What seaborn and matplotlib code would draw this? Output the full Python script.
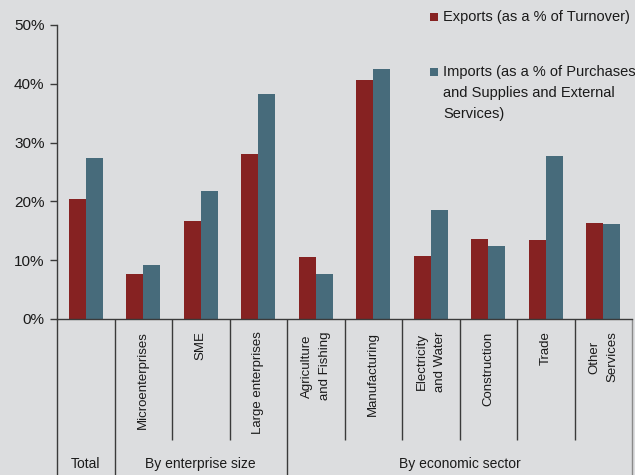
import matplotlib
matplotlib.use("Agg")
import matplotlib.pyplot as plt
import matplotlib.patches as mpatches
import matplotlib.transforms as mtransforms
from matplotlib.ticker import PercentFormatter, FixedLocator
import seaborn as sns
import pandas as pd

# Categories along the x axis
categories = [
    "Total",
    "Microenterprises",
    "SME",
    "Large enterprises",
    "Agriculture\nand Fishing",
    "Manufacturing",
    "Electricity\nand Water",
    "Construction",
    "Trade",
    "Other\nServices",
]
# Rotated labels under each category (the total column is named by its group label only)
tick_labels = [""] + categories[1:]
# Exports as a share of turnover (%)
exports = [20.4, 7.6, 16.7, 28.0, 10.6, 40.6, 10.7, 13.6, 13.4, 16.4]
# Imports as a share of purchases, supplies and external services (%)
imports = [27.4, 9.2, 21.7, 38.3, 7.6, 42.6, 18.5, 12.4, 27.8, 16.1]

series_names = [
    "Exports (as a % of Turnover)",
    "Imports (as a % of Purchases\nand Supplies and External\nServices)",
]
groups = ["Total", "By enterprise size", "By economic sector"]
group_spans = [(0, 0), (1, 3), (4, 9)]  # first and last category of each group
y_ticks = [0, 10, 20, 30, 40, 50]

BG = "#dcdddf"
RED = "#862222"
BLUE = "#476b7b"
LINE = "#3a3a3a"

df = pd.DataFrame({
    "category": categories * 2,
    "series": [series_names[0]] * len(categories) + [series_names[1]] * len(categories),
    "value": exports + imports,
})

sns.set_theme(style="white")
plt.rcParams["font.family"] = ["Liberation Sans", "DejaVu Sans"]

fig = plt.figure(figsize=(6.35, 4.75), dpi=100, facecolor=BG)
ax = fig.add_axes([57 / 635, (475 - 319) / 475, (632 - 57) / 635, (319 - 25) / 475])
ax.set_facecolor(BG)

sns.barplot(
    data=df, x="category", y="value", hue="series",
    order=categories, hue_order=series_names,
    palette=[RED, BLUE], width=0.59, gap=0,
    saturation=1, legend=False, ax=ax, edgecolor="none",
)

ax.set_xlim(-0.5, len(categories) - 0.5)
ax.set_ylim(0, 50)
ax.yaxis.set_major_locator(FixedLocator(y_ticks))
ax.yaxis.set_major_formatter(PercentFormatter(decimals=0))
ax.set_xlabel("")
ax.set_ylabel("")
ax.set_xticks(range(len(categories)))
ax.set_xticklabels(tick_labels)

for side in ("top", "right"):
    ax.spines[side].set_visible(False)
ax.spines["left"].set_color(LINE)
ax.spines["left"].set_linewidth(1.0)
ax.spines["bottom"].set_color(LINE)
ax.spines["bottom"].set_linewidth(1.0)

ax.tick_params(axis="y", which="major", direction="out", length=5, width=1.0,
               color=LINE, labelsize=11, labelcolor="#1a1a1a", pad=4, left=True)
ax.tick_params(axis="x", length=0, pad=9, labelsize=9.5, labelcolor="#1a1a1a")
plt.setp(ax.get_xticklabels(), rotation=90, ha="center", va="top",
         multialignment="center", linespacing=1.7)

# Table-like dividers under the axis
trans = mtransforms.blended_transform_factory(ax.transData, fig.transFigure)
y0 = 1 - 319 / 475
y_short = 1 - 440 / 475
long_edges = {-0.5, 0.5, 3.5}
for i in range(len(categories) + 1):
    xe = i - 0.5
    if xe in long_edges:
        ax.plot([xe, xe], [y0, 0], transform=trans, color=LINE, lw=1.0,
                clip_on=False, solid_capstyle="butt")
    elif i == len(categories):
        ax.plot([xe, xe], [y0, 0], transform=trans, color="#8a8a8a", lw=1.0,
                clip_on=False, solid_capstyle="butt")
    else:
        ax.plot([xe, xe], [y0, y_short], transform=trans, color=LINE, lw=1.0,
                clip_on=False, solid_capstyle="butt")

# Group labels
y_group = 1 - 464 / 475
for name, (a, b) in zip(groups, group_spans):
    ax.text((a + b) / 2, y_group, name, transform=trans, ha="center", va="center",
            fontsize=10, color="#1a1a1a")

# Legend in the top right corner
legend_items = [(series_names[0], RED, 17), (series_names[1], BLUE, 72)]
for label, color, ypx in legend_items:
    fig.patches.append(mpatches.Rectangle(
        (430 / 635, 1 - (ypx + 4) / 475), 8 / 635, 8 / 475,
        transform=fig.transFigure, facecolor=color, edgecolor="none"))
    fig.text(443 / 635, 1 - (ypx - 7) / 475, label, ha="left", va="top",
             fontsize=10.5, color="#1a1a1a", linespacing=1.65)

fig.savefig("out.png", dpi=100, facecolor=BG)
